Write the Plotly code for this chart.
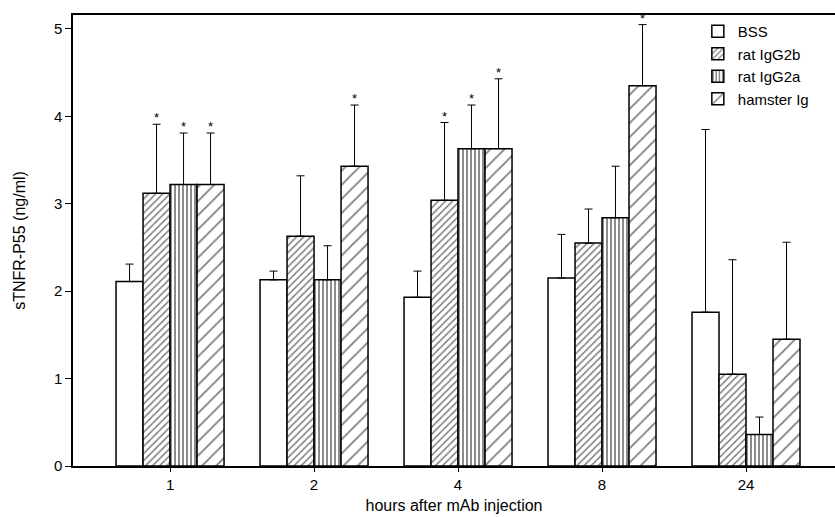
import plotly.graph_objects as go

hours = ["1", "2", "4", "8", "24"]
series = ["BSS", "rat IgG2b", "rat IgG2a", "hamster Ig"]

bss = [2.11, 2.13, 1.93, 2.15, 1.76]
igg2b = [3.12, 2.63, 3.04, 2.55, 1.05]
igg2a = [3.22, 2.13, 3.63, 2.84, 0.36]
hamster = [3.22, 3.43, 3.63, 4.35, 1.45]

bss_err_top = [2.31, 2.23, 2.23, 2.65, 3.85]
igg2b_err_top = [3.91, 3.32, 3.93, 2.94, 2.36]
igg2a_err_top = [3.81, 2.52, 4.13, 3.43, 0.56]
hamster_err_top = [3.81, 4.13, 4.43, 5.05, 2.56]

igg2b_sig = [True, False, True, False, False]
igg2a_sig = [True, False, True, False, False]
hamster_sig = [True, True, True, True, False]
bss_sig = [False] * 5

values = [bss, igg2b, igg2a, hamster]
err_tops = [bss_err_top, igg2b_err_top, igg2a_err_top, hamster_err_top]
sigs = [bss_sig, igg2b_sig, igg2a_sig, hamster_sig]
patterns = [
    dict(shape=""),
    dict(shape="/", size=5, solidity=0.3, fgcolor="black", bgcolor="white"),
    dict(shape="|", size=4, solidity=0.45, fgcolor="black", bgcolor="white"),
    dict(shape="/", size=10, solidity=0.18, fgcolor="black", bgcolor="white"),
]

xpos = list(range(len(hours)))
bargap = 0.25
bw = (1 - bargap) / len(series)

fig = go.Figure()
annotations = []
for j, name in enumerate(series):
    vals = values[j]
    up = [t - v for t, v in zip(err_tops[j], vals)]
    fig.add_trace(go.Bar(
        x=xpos, y=vals, name=name,
        marker=dict(color="white", line=dict(color="black", width=1.5), pattern=patterns[j]),
        error_y=dict(type="data", symmetric=False, array=up, arrayminus=[0] * len(vals),
                     color="black", thickness=1, width=4),
    ))
    for i, s in enumerate(sigs[j]):
        if s:
            annotations.append(dict(
                x=i + (j - 1.5) * bw, y=err_tops[j][i], xref="x", yref="y",
                text="*", showarrow=False, yanchor="bottom", yshift=-3,
                font=dict(size=13, color="black", family="Liberation Sans"),
            ))

fig.update_layout(
    width=835, height=517,
    margin=dict(l=73, r=0, t=15, b=51),
    paper_bgcolor="white", plot_bgcolor="white",
    barmode="group", bargap=bargap, bargroupgap=0,
    font=dict(family="Liberation Sans, Arial, sans-serif", size=15, color="black"),
    showlegend=True,
    annotations=annotations,
    legend=dict(x=0.82, y=1.0, xanchor="left", yanchor="top",
                bgcolor="rgba(0,0,0,0)", font=dict(size=15),
                tracegroupgap=0, itemwidth=30),
)
fig.update_xaxes(
    range=[-0.674, 4.618], tickmode="array", tickvals=xpos, ticktext=hours,
    showline=True, linecolor="black", linewidth=1.5, mirror=True,
    ticks="outside", ticklen=4, tickcolor="black", showgrid=False, zeroline=False,
    tickfont=dict(size=15),
    title=dict(text="hours after mAb injection", font=dict(size=16), standoff=8),
)
fig.update_yaxes(
    range=[0, 5.16], tickvals=[0, 1, 2, 3, 4, 5],
    showline=True, linecolor="black", linewidth=1.5, mirror=False,
    ticks="outside", ticklen=6, tickcolor="black", showgrid=False, zeroline=False,
    tickfont=dict(size=15),
    title=dict(text="sTNFR-P55 (ng/ml)", font=dict(size=16), standoff=24),
)

fig.write_html("out.html")
